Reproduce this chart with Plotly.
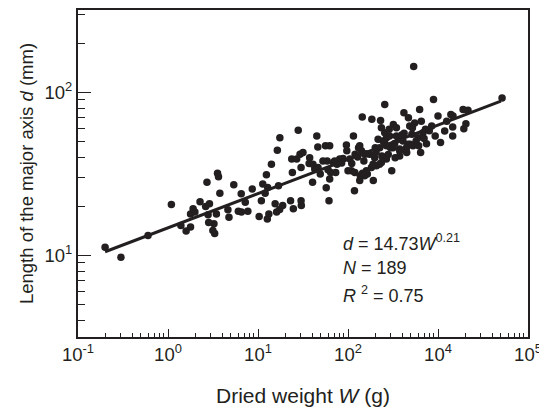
import plotly.graph_objects as go

# Dried weight W (g) and length of major axis d (mm)
dried_weight_g = [
    0.20, 0.30, 0.60, 1.09, 1.39, 1.59, 1.78, 1.78, 1.90, 1.99,
    2.27, 2.71, 2.79, 2.89, 3.15, 3.24, 3.30, 3.55, 3.64, 3.45,
    3.77, 4.63, 4.76, 2.62, 2.83,
    5.38, 6.05, 6.51, 7.22, 7.71, 8.64, 10.3, 11.3, 12.0, 12.4,
    12.7, 13.2, 14.1, 15.5, 16.1, 16.4, 16.9, 17.5, 18.8, 23.0,
    23.7, 24.1, 24.7, 28.0, 26.9, 6.54, 17.4, 30.3, 12.8, 10.9,
    29.3, 30.1, 30.1, 37.0, 40.4, 45.0, 46.2, 49.2, 56.2, 57.3,
    61.5, 58.7, 64.2, 69.0, 75.5, 96, 100, 105, 115, 118,
    120, 131, 137, 144, 150, 164, 182, 184, 191, 201,
    224, 230, 238, 256, 268, 287, 297, 306, 319, 334, 366,
    62.6, 135, 235, 345, 256, 290, 345, 408, 464, 37.5,
    40.8, 46.4, 52.7, 71.1, 80.9, 88, 141, 153, 174, 225,
    267, 316, 375, 62.6, 73, 109, 119, 135, 153, 207,
    235, 267, 375, 97, 31.6, 42.7,
    418, 437, 469, 491, 513, 537, 571, 625, 641, 652,
    726, 745, 891, 931, 1000, 1067, 1390, 1456, 1456, 1900,
    1936, 2042, 5150, 2153, 1468, 392, 446, 527, 600, 681,
    449, 375, 851, 485, 551, 1186, 1250, 395, 245, 216,
    198, 190, 160,
    110, 128, 160, 205, 255, 280, 330, 420, 520, 610,
    700, 800, 60, 85, 145,
]
major_axis_mm = [
    11.2, 9.7, 13.2, 20.5, 15.2, 14.1, 14.9, 17.9, 19.3, 18.4,
    21.3, 28.0, 17.7, 20.7, 14.2, 15.6, 13.6, 31.8, 30.3, 17.9,
    24.0, 19.0, 17.1, 19.9, 15.9,
    27.1, 18.6, 23.8, 21.1, 18.6, 25.5, 17.3, 27.4, 24.0, 31.2,
    16.7, 17.9, 36.2, 20.7, 18.4, 44.1, 26.7, 52.6, 20.2, 21.6,
    38.9, 32.2, 19.3, 58.4, 39.0, 18.4, 19.1, 20.2, 26.0, 21.6,
    41.7, 21.6, 34.5, 36.5, 28.0, 53.9, 46.2, 31.5, 46.9, 25.9,
    21.6, 37.9, 32.2, 37.1, 36.2, 47.5, 33.0, 38.9, 53.9, 24.9,
    41.7, 45.7, 30.7, 70.4, 37.9, 31.5, 34.5, 68.2, 28.7, 45.7,
    36.2, 67.2, 40.7, 84.1, 52.6, 59.3, 45.7, 33.0, 63.5, 39.7, 51.5,
    46.9, 46.9, 60.6, 60.6, 56.5, 53.9, 53.9, 50.3, 48.0, 39.7,
    36.2, 34.5, 37.9, 37.9, 38.9, 39.2, 43.7, 41.7, 41.7, 45.7,
    46.9, 45.7, 44.8, 29.4, 32.2, 33.0, 32.2, 28.7, 30.7, 35.4,
    37.1, 38.9, 40.7, 43.7, 42.7, 33.8,
    74.8, 43.7, 69.7, 48.0, 55.2, 144, 50.3, 78.5, 42.7, 66.5,
    59.3, 48.4, 90.2, 53.9, 71.4, 49.1, 73.1, 61.2, 53.9, 78.5,
    59.7, 64.1, 92.3, 77.6, 71.4, 53.9, 45.7, 46.9, 52.6, 56.5,
    42.7, 43.7, 62.1, 62.1, 64.7, 57.8, 66.5, 54.7, 50.3, 51.5,
    39.7, 36.2, 33.0,
    36.5, 40.0, 42.0, 43.0, 49.0, 41.5, 48.5, 56.0, 60.5, 47.0,
    52.0, 58.0, 33.5, 36.8, 31.8,
]

# Fitted line d = 14.73 W^0.21, end points as drawn
fit_weight_g = [0.2, 5000]
fit_axis_mm = [10.5, 88.2]

x_tick_vals = [0.1, 1, 10, 100, 1000, 10000]
x_tick_text = ["10<sup>-1</sup>", "10<sup>0</sup>", "10<sup>1</sup>",
               "10<sup>2</sup>", "10<sup>4</sup>", "10<sup>5</sup>"]
x_minor_vals = [m * 10 ** e for e in range(-1, 4) for m in range(2, 10)]
y_tick_vals = [10, 100]
y_tick_text = ["10<sup>1</sup>", "10<sup>2</sup>"]
y_minor_vals = [4, 5, 6, 7, 8, 9, 20, 30, 40, 50, 60, 70, 80, 90, 200, 300]

INK = "#231f20"
FONT = "Liberation Sans, Arial, Helvetica, sans-serif"

fig = go.Figure()
fig.add_trace(go.Scatter(
    x=dried_weight_g, y=major_axis_mm, mode="markers",
    marker=dict(size=7.5, color=INK, line=dict(width=0)),
    showlegend=False, hoverinfo="x+y"))
fig.add_trace(go.Scatter(
    x=fit_weight_g, y=fit_axis_mm, mode="lines",
    line=dict(color=INK, width=3), showlegend=False))

fig.update_layout(
    width=539, height=401,
    margin=dict(l=70, r=19, t=0, b=72),
    paper_bgcolor="white", plot_bgcolor="white",
    font=dict(family=FONT, color=INK, size=18),
    xaxis=dict(
        type="log", range=[-1, 4],
        tickmode="array", tickvals=x_tick_vals, ticktext=x_tick_text,
        ticks="inside", ticklen=8, tickwidth=1.3, tickcolor=INK,
        minor=dict(tickmode="array", tickvals=x_minor_vals, ticks="inside",
                   ticklen=4, tickwidth=1.1, tickcolor=INK, showgrid=False),
        showline=True, linecolor=INK, linewidth=2, mirror=True,
        showgrid=False, zeroline=False,
        tickfont=dict(size=18.5, family=FONT, color=INK),
        title=dict(text="Dried weight <i>W</i> (g)", standoff=24,
                   font=dict(size=21, family=FONT, color=INK)),
    ),
    yaxis=dict(
        type="log", range=[0.498, 2.505],
        tickmode="array", tickvals=y_tick_vals, ticktext=y_tick_text,
        ticks="inside", ticklen=13, tickwidth=1.3, tickcolor=INK,
        minor=dict(tickmode="array", tickvals=y_minor_vals, ticks="inside",
                   ticklen=7, tickwidth=1.1, tickcolor=INK, showgrid=False),
        showline=True, linecolor=INK, linewidth=2, mirror=True,
        showgrid=False, zeroline=False,
        tickfont=dict(size=18.5, family=FONT, color=INK),
        title=dict(text="Length of the major axis <i>d</i> (mm)", standoff=6,
                   font=dict(size=18.5, family=FONT, color=INK)),
    ),
)

ann_font = dict(size=18, family=FONT, color=INK)
fig.add_annotation(xref="paper", yref="paper", x=0.585, y=0.29, xanchor="left",
                   yanchor="middle", showarrow=False, font=ann_font,
                   text="<i>d</i> = 14.73<i>W</i><sup>0.21</sup>")
fig.add_annotation(xref="paper", yref="paper", x=0.585, y=0.21, xanchor="left",
                   yanchor="middle", showarrow=False, font=ann_font,
                   text="<i>N</i> = 189")
fig.add_annotation(xref="paper", yref="paper", x=0.585, y=0.13, xanchor="left",
                   yanchor="middle", showarrow=False, font=ann_font,
                   text="<i>R</i> <sup>2</sup> = 0.75")

fig.write_html("out.html")
